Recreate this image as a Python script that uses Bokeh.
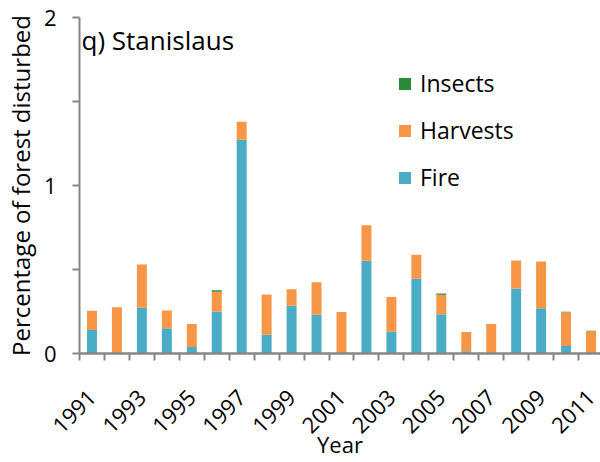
import math
from bokeh.plotting import figure
from bokeh.models import ColumnDataSource, FixedTicker, Legend, LegendItem, Label, Range1d
from bokeh.embed import file_html
from bokeh.resources import INLINE

years = list(range(1991, 2012))
fire = [0.140, 0.000, 0.273, 0.150, 0.039, 0.250, 1.272, 0.112, 0.284, 0.231, 0.000,
        0.552, 0.130, 0.446, 0.233, 0.014, 0.000, 0.387, 0.270, 0.045, 0.008]
harvests = [0.115, 0.275, 0.257, 0.106, 0.136, 0.117, 0.108, 0.239, 0.099, 0.193, 0.247,
            0.211, 0.207, 0.142, 0.116, 0.114, 0.176, 0.167, 0.278, 0.200, 0.124]
insects = [0.0, 0.0, 0.0, 0.0, 0.0, 0.010, 0.0, 0.0, 0.0, 0.0, 0.0,
           0.0, 0.0, 0.0, 0.008, 0.0, 0.0, 0.0, 0.0, 0.003, 0.003]
series = ["Fire", "Harvests", "Insects"]
colors = ["#4BACC6", "#F79646", "#2A8B36"]
label_years = [1991, 1993, 1995, 1997, 1999, 2001, 2003, 2005, 2007, 2009, 2011]
y_ticks = [0, 1, 2]

FONT = "Open Sans"
source = ColumnDataSource(dict(year=years, Fire=fire, Harvests=harvests, Insects=insects))

p = figure(width=600, height=462, output_backend="svg", toolbar_location=None,
           x_range=Range1d(1990.5, 2011.38), y_range=Range1d(0, 2),
           min_border_left=78, min_border_top=17, min_border_right=0, min_border_bottom=107)
p.outline_line_color = None
p.xgrid.grid_line_color = None
p.ygrid.grid_line_color = None

renderers = p.vbar_stack(series, x="year", width=0.4, color=colors, source=source, line_color=None)

legend = Legend(items=[LegendItem(label=s, renderers=[r]) for s, r in reversed(list(zip(series, renderers)))],
                location=(318, 160), padding=0, margin=0, spacing=15,
                glyph_width=15, glyph_height=15, label_standoff=8,
                label_text_font=FONT, label_text_font_size="23px", label_text_color="black",
                border_line_alpha=0, background_fill_alpha=0)
p.add_layout(legend)

axis_color = "#868686"
ya = p.yaxis[0]
ya.ticker = FixedTicker(ticks=y_ticks, minor_ticks=[0.5, 1.5])
ya.axis_line_color = axis_color
ya.axis_line_width = 2
ya.major_tick_line_color = axis_color
ya.minor_tick_line_color = axis_color
ya.major_tick_line_width = 2
ya.minor_tick_line_width = 2
ya.major_tick_in = 0
ya.major_tick_out = 7
ya.minor_tick_in = 0
ya.minor_tick_out = 7
ya.major_label_standoff = 16
ya.major_label_text_font = FONT
ya.major_label_text_font_size = "22px"
ya.major_label_text_color = "black"
ya.axis_label = "Percentage of forest disturbed"
ya.axis_label_text_font = FONT
ya.axis_label_text_font_size = "24px"
ya.axis_label_text_font_style = "normal"
ya.axis_label_text_color = "black"
ya.axis_label_standoff = 4

xa = p.xaxis[0]
xa.ticker = FixedTicker(ticks=label_years, minor_ticks=[y - 0.5 for y in years] + [years[-1] + 0.5])
xa.axis_line_color = axis_color
xa.axis_line_width = 2.5
xa.major_tick_line_color = None
xa.major_tick_in = 0
xa.major_tick_out = 7
xa.minor_tick_line_color = axis_color
xa.minor_tick_line_width = 2
xa.minor_tick_in = 0
xa.minor_tick_out = 7
xa.major_label_orientation = math.pi / 4
xa.major_label_standoff = 33
xa.major_label_text_font = FONT
xa.major_label_text_font_size = "22px"
xa.major_label_text_color = "black"
xa.axis_label = "Year"
xa.axis_label_text_font = FONT
xa.axis_label_text_font_size = "22px"
xa.axis_label_text_font_style = "normal"
xa.axis_label_text_color = "black"
xa.axis_label_standoff = -14

title = Label(x=1990.58, y=1.864, text="q) Stanislaus", text_font=FONT, text_font_size="26px",
              text_color="black", text_baseline="alphabetic", text_align="left")
p.add_layout(title)

open("out.html", "w").write(file_html(p, INLINE))
